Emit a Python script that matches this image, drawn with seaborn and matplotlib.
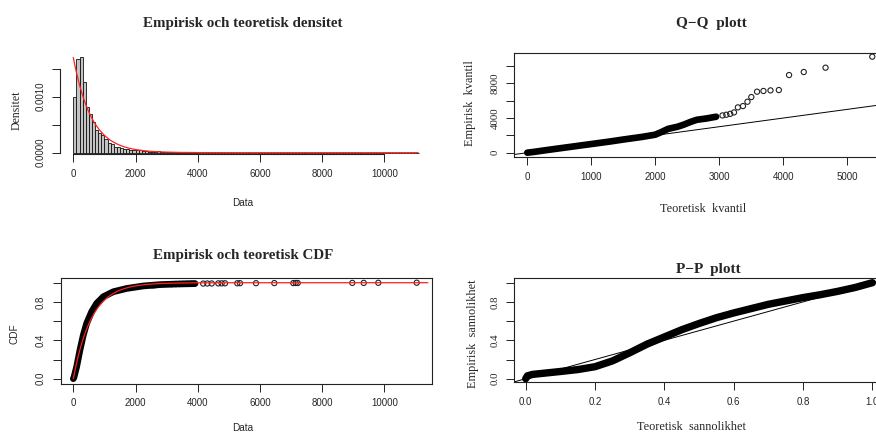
import numpy as np
import pandas as pd
import matplotlib
matplotlib.use("Agg")
import matplotlib.pyplot as plt
import seaborn as sns

# ---------------- data ----------------
fitted_rate = 0.0017          # rate of the fitted exponential (red curves)
hist_bin_width = 100
hist_density_head = [0.00100, 0.00167, 0.00171, 0.00127, 0.00082, 0.00069, 0.00054,
                     0.00040, 0.00035, 0.00032, 0.00024, 0.00018, 0.00016, 0.00010,
                     0.00010, 0.00008, 0.00007, 0.00006, 0.00005, 0.00005, 0.00004,
                     0.00004, 0.00003, 0.00003, 0.00002, 0.00002, 0.00002, 0.00003,
                     0.00002, 0.00002, 0.00001, 0.00001, 0.00001, 0.00001, 0.00001,
                     0.00001, 0.00001, 0.00001, 0.00002, 0.00001]
hist_density_tail = [0.0] * 71   # bins 4000-11100: (near) empty

qq_band_theo = [0, 100, 300, 500, 800, 1000, 1300, 1500, 1800, 2000, 2100, 2200,
                2350, 2450, 2550, 2650, 2800, 2950]
qq_band_emp = [0, 90, 300, 500, 800, 1000, 1300, 1520, 1830, 2080, 2400, 2750,
               3000, 3250, 3550, 3800, 3950, 4150]
qq_tail_theo = [3050, 3110, 3170, 3230, 3290, 3370, 3440, 3500, 3590, 3690, 3800,
                3930, 4090, 4320, 4660, 5390]
qq_tail_emp = [4300, 4380, 4480, 4650, 5230, 5380, 5880, 6420, 7040, 7120, 7190,
               7230, 8960, 9310, 9810, 11080]

cdf_band_x = [0, 22, 108, 215, 322, 430, 590, 752, 965, 1286, 1717, 2250, 2788, 3300, 3900]
cdf_band_y = [0.0, 0.015, 0.125, 0.30, 0.455, 0.577, 0.698, 0.785, 0.854, 0.906,
              0.94, 0.966, 0.98, 0.986, 0.99]
cdf_pts_x = [2540, 2620, 3160, 3300, 3420, 3520, 3620, 3700, 3780, 3850, 3920,
             4177, 4309, 4450, 4662, 4770, 4878, 5273, 5360, 5875, 6463, 7074, 7151,
             7215, 8971, 9338, 9807, 11042]
cdf_pts_y = [0.972, 0.974, 0.985, 0.986, 0.987, 0.988, 0.989, 0.989, 0.990, 0.990,
             0.991, 0.991, 0.992, 0.992, 0.993, 0.993, 0.994, 0.994, 0.995, 0.995,
             0.996, 0.996, 0.997, 0.997, 0.998, 0.998, 0.999, 1.0]

pp_theo = [0.0, 0.005, 0.02, 0.06, 0.10, 0.15, 0.20, 0.25, 0.30, 0.35, 0.40, 0.45,
           0.50, 0.55, 0.60, 0.65, 0.70, 0.75, 0.80, 0.85, 0.90, 0.95, 1.0]
pp_emp = [0.0, 0.03, 0.045, 0.06, 0.075, 0.095, 0.125, 0.185, 0.27, 0.36, 0.435,
          0.51, 0.575, 0.635, 0.685, 0.73, 0.775, 0.81, 0.845, 0.875, 0.91, 0.95, 1.0]

# ---------------- style ----------------
sns.set_theme(style="white")
SANS = ["Liberation Sans", "DejaVu Sans"]
SERIF = ["Liberation Serif", "DejaVu Serif"]
plt.rcParams["font.family"] = SANS
plt.rcParams["axes.linewidth"] = 0.8
plt.rcParams["axes.edgecolor"] = "#222222"

W, H = 876, 433
fig = plt.figure(figsize=(W / 100, H / 100), dpi=100)
fig.patch.set_facecolor("white")


def add_axes_px(l, t, r, b):
    ax = fig.add_axes([l / W, 1 - b / H, (r - l) / W, (b - t) / H])
    ax.set_facecolor("white")
    return ax


def xlim_px(l, r, p0, ppu):
    return ((l - p0) / ppu, (r - p0) / ppu)


def ylim_px(t, b, p0, ppu):
    return ((p0 - b) / ppu, (p0 - t) / ppu)


def r_ticks(ax, xt, xl, yt, yl, yfam=SANS, yfs=7):
    ax.set_xticks(xt)
    ax.set_xticklabels(xl, fontsize=7, family=SANS)
    ax.set_yticks(yt)
    ax.set_yticklabels(yl, fontsize=yfs, family=yfam, rotation=90, va="center")
    ax.tick_params(axis="both", direction="out", length=5.5, width=0.7,
                   color="#222222", bottom=True, left=True)
    ax.tick_params(axis="x", pad=5)
    ax.tick_params(axis="y", pad=5)
    ax.set_xlabel("")
    ax.set_ylabel("")


def ftext(x, y, s, **kw):
    fig.text(x / W, 1 - y / H, s, ha="center", va="center", **kw)


circle_kw = dict(marker="o", s=14, facecolors="none", edgecolors="#222222",
                 linewidths=0.8, legend=False)

# ---------------- panel 1: histogram + density ----------------
ax1 = add_axes_px(60, 45, 432, 154)
dens = hist_density_head + hist_density_tail
edges = [i * hist_bin_width for i in range(len(dens) + 1)]
hist_df = pd.DataFrame({"center": [e + hist_bin_width / 2 for e in edges[:-1]],
                        "density": dens})
sns.histplot(data=hist_df, x="center", weights="density", bins=edges, ax=ax1,
             color="#c4c4c4", edgecolor="#111111", linewidth=0.6, alpha=1.0)
xg = np.linspace(0, 11090, 800)
sns.lineplot(x=xg, y=fitted_rate * np.exp(-fitted_rate * xg), ax=ax1,
             color="#ff2020", linewidth=0.9)
ax1.set_xlim(*xlim_px(60, 432, 73.3, 0.0311))
ax1.set_ylim(*ylim_px(45, 154, 152.7, 56000))
r_ticks(ax1, [0, 2000, 4000, 6000, 8000, 10000],
        ["0", "2000", "4000", "6000", "8000", "10000"],
        [0, 0.0005, 0.0010, 0.0015], ["0.0000", "", "0.0010", ""])
for s in ["top", "right"]:
    ax1.spines[s].set_visible(False)
ax1.spines["bottom"].set_bounds(0, 10000)
ax1.spines["left"].set_bounds(0, 0.0015)
ftext(243, 24, "Empirisk och teoretisk densitet", family=SERIF, fontsize=10.8,
      fontweight="bold")
ftext(243, 203, "Data", family=SANS, fontsize=7.2)
ftext(17, 110, "Densitet", family=SERIF, fontsize=8.5, rotation=90)

# ---------------- panel 2: Q-Q ----------------
ax2 = add_axes_px(514, 52.7, 886, 157.3)
sns.lineplot(x=qq_band_theo, y=qq_band_emp, ax=ax2, color="black", linewidth=4.8,
             solid_capstyle="round")
sns.scatterplot(x=qq_tail_theo, y=qq_tail_emp, ax=ax2, **circle_kw)
sns.lineplot(x=[-1000, 12000], y=[-1000, 12000], ax=ax2, color="black", linewidth=0.7)
ax2.set_xlim(*xlim_px(514, 886, 527.3, 0.064))
ax2.set_ylim(*ylim_px(52.7, 157.3, 152.7, 0.008667))
r_ticks(ax2, [0, 1000, 2000, 3000, 4000, 5000],
        ["0", "1000", "2000", "3000", "4000", "5000"],
        [0, 2000, 4000, 6000, 8000, 10000], ["0", "", "4000", "", "8000", ""],
        yfam=SERIF, yfs=7.8)
ftext(711, 23, "Q\u2212Q  plott", family=SERIF, fontsize=11, fontweight="bold")
ftext(703, 209, "Teoretisk  kvantil", family=SERIF, fontsize=8.8)
ftext(470, 103, "Empirisk  kvantil", family=SERIF, fontsize=8.8, rotation=90)

# ---------------- panel 3: CDF ----------------
ax3 = add_axes_px(60.7, 278.3, 432, 383.7)
sns.lineplot(x=cdf_band_x, y=cdf_band_y, ax=ax3, color="black", linewidth=4.8,
             solid_capstyle="round")
sns.scatterplot(x=cdf_pts_x, y=cdf_pts_y, ax=ax3, **circle_kw)
xc = np.linspace(0, 11400, 800)
sns.lineplot(x=xc, y=1 - np.exp(-fitted_rate * xc), ax=ax3, color="#ff2020",
             linewidth=0.9)
ax3.set_xlim(*xlim_px(60.7, 432, 73.3, 0.0311))
ax3.set_ylim(*ylim_px(278.3, 383.7, 378.7, 96))
r_ticks(ax3, [0, 2000, 4000, 6000, 8000, 10000],
        ["0", "2000", "4000", "6000", "8000", "10000"],
        [0, 0.2, 0.4, 0.6, 0.8, 1.0], ["0.0", "", "0.4", "", "0.8", ""])
ftext(243, 256, "Empirisk och teoretisk CDF", family=SERIF, fontsize=10.8,
      fontweight="bold")
ftext(243, 428, "Data", family=SANS, fontsize=7.2)
ftext(15, 334, "CDF", family=SANS, fontsize=7.2, rotation=90)

# ---------------- panel 4: P-P ----------------
ax4 = add_axes_px(514, 278.3, 886, 382)
sns.lineplot(x=pp_theo, y=pp_emp, ax=ax4, color="black", linewidth=5.3,
             solid_capstyle="round")
sns.lineplot(x=[-0.5, 1.5], y=[-0.5, 1.5], ax=ax4, color="black", linewidth=0.7)
ax4.set_xlim(*xlim_px(514, 886, 525.7, 346.7))
ax4.set_ylim(*ylim_px(278.3, 382, 378.7, 96))
r_ticks(ax4, [0, 0.2, 0.4, 0.6, 0.8, 1.0],
        ["0.0", "0.2", "0.4", "0.6", "0.8", "1.0"],
        [0, 0.2, 0.4, 0.6, 0.8, 1.0], ["0.0", "", "0.4", "", "0.8", ""],
        yfam=SERIF, yfs=7.8)
ftext(708, 269, "P\u2212P  plott", family=SERIF, fontsize=11, fontweight="bold")
ftext(691, 427, "Teoretisk  sannolikhet", family=SERIF, fontsize=8.8)
ftext(473, 334, "Empirisk  sannolikhet", family=SERIF, fontsize=8.8, rotation=90)

fig.savefig("out.png", dpi=100, facecolor="white")
